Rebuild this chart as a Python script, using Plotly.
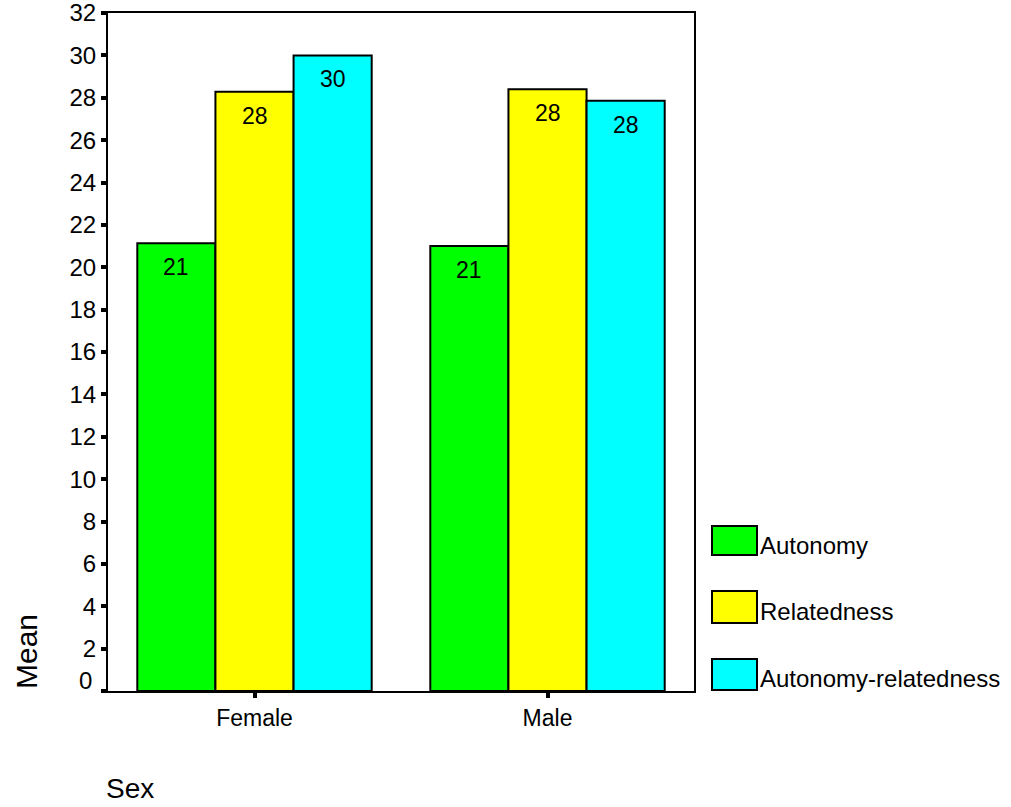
import plotly.graph_objects as go

# Mean scores by sex
categories = ["Female", "Male"]
series_names = ["Autonomy", "Relatedness", "Autonomy-relatedness"]
autonomy = [21.13, 21.0]
relatedness = [28.28, 28.40]
autonomy_relatedness = [30.0, 27.86]
series_values = [autonomy, relatedness, autonomy_relatedness]
colors = ["#00ff00", "#ffff00", "#00ffff"]
y_ticks = list(range(0, 33, 2))

FONT = "Liberation Sans, Arial, Helvetica, sans-serif"
W, H = 1011, 807
L, R, T, B = 108, 317, 13, 116
PW, PH = W - L - R, H - T - B


def px_x(px):
    return (px - L) / PW


def px_y(py):
    return (H - B - py) / PH


fig = go.Figure()
for name, vals, col in zip(series_names, series_values, colors):
    fig.add_trace(go.Bar(
        name=name, x=categories, y=vals,
        marker=dict(color=col, line=dict(color="black", width=2)),
        textposition="none",
        showlegend=False,
    ))

# value labels placed just under each bar top
n = len(series_names)
group_w = 0.8
bar_w = group_w / n
annotations = []
for i, vals in enumerate(series_values):
    for j, v in enumerate(vals):
        xc = j - group_w / 2 + bar_w * (i + 0.5)
        annotations.append(dict(
            x=xc, y=v, xref="x", yref="y", text=f"{v:.0f}",
            showarrow=False, yanchor="middle", yshift=-24,
            font=dict(family=FONT, size=23, color="black"),
        ))

# "0" label sits a little above its tick
annotations.append(dict(
    x=0, y=0, xref="paper", yref="y", text="0", showarrow=False,
    xanchor="right", yanchor="middle", xshift=-14, yshift=11,
    font=dict(family=FONT, size=24, color="black"),
))

# legend: swatches and names
shapes = []
swatch_rows = [(526, 555, 545), (591, 623, 611), (659, 690, 678)]
for (y0, y1, ty), name, col in zip(swatch_rows, series_names, colors):
    shapes.append(dict(
        type="rect", xref="paper", yref="paper",
        x0=px_x(712), x1=px_x(757), y0=px_y(y1), y1=px_y(y0),
        fillcolor=col, line=dict(color="black", width=2),
    ))
    annotations.append(dict(
        x=px_x(758), y=px_y(ty), xref="paper", yref="paper", text=name,
        showarrow=False, xanchor="left", yanchor="middle",
        font=dict(family=FONT, size=24, color="black"),
    ))

# axis titles
annotations.append(dict(
    x=px_x(26), y=px_y(652), xref="paper", yref="paper", text="Mean",
    showarrow=False, textangle=-90, xanchor="center", yanchor="middle",
    font=dict(family=FONT, size=30, color="black"),
))
annotations.append(dict(
    x=px_x(104), y=px_y(788), xref="paper", yref="paper", text="Sex",
    showarrow=False, xanchor="left", yanchor="middle",
    font=dict(family=FONT, size=28, color="black"),
))

fig.update_layout(
    width=W, height=H,
    margin=dict(l=L, r=R, t=T, b=B, pad=0, autoexpand=False),
    paper_bgcolor="white", plot_bgcolor="white",
    barmode="group", bargap=0.2, bargroupgap=0,
    showlegend=False,
    font=dict(family=FONT, color="black"),
    annotations=annotations, shapes=shapes,
)
fig.update_xaxes(
    type="category", range=[-0.5, 1.5], automargin=False,
    showline=True, linecolor="black", linewidth=2, mirror=True,
    ticks="outside", ticklen=5, tickwidth=4, tickcolor="black",
    tickfont=dict(family=FONT, size=23, color="black"),
    showgrid=False, zeroline=False,
)
fig.update_yaxes(
    range=[0, 32], tickvals=y_ticks, automargin=False,
    ticktext=["" if t == 0 else str(t) for t in y_ticks],
    ticklabeloverflow="allow",
    showline=True, linecolor="black", linewidth=2, mirror=True,
    ticks="outside", ticklen=5, tickwidth=4, tickcolor="black",
    tickfont=dict(family=FONT, size=24, color="black"),
    showgrid=False, zeroline=False,
)

fig.write_html("out.html")
